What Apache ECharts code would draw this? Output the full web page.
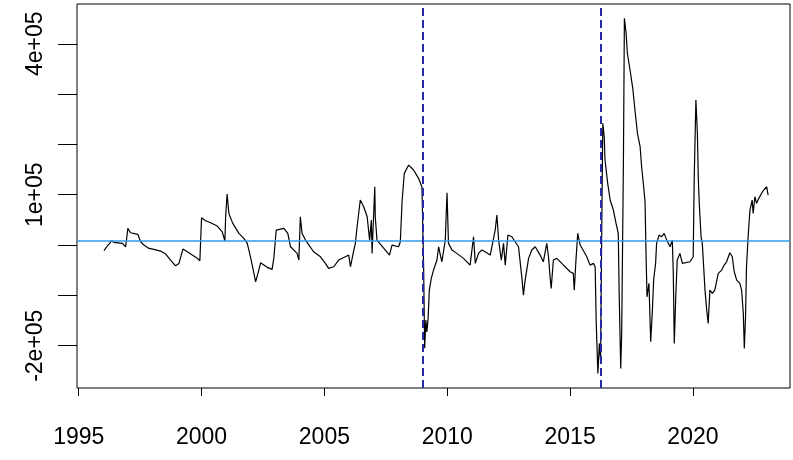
<!DOCTYPE html>
<html><head><meta charset="utf-8">
<script src="https://cdn.jsdelivr.net/npm/echarts@6/dist/echarts.min.js"></script>
<style>html,body{margin:0;padding:0;background:#fff}#c{width:793px;height:460px}</style>
</head><body><div id="c"></div>
<script>
// time (decimal year) of each vertex
const years = [1996.03,1996.17,1996.34,1996.43,1996.78,1996.91,1997.00,1997.07,1997.11,1997.41,1997.52,1997.65,1997.86,1998.06,1998.33,1998.54,1998.74,1998.94,1999.08,1999.24,1999.42,1999.62,1999.83,1999.93,
2000.00,2000.16,2000.37,2000.64,2000.84,2000.95,2000.98,2001.04,2001.11,2001.27,2001.52,2001.72,2001.86,2001.99,2002.09,2002.20,2002.33,2002.40,2002.67,2002.87,2002.94,2003.04,2003.21,2003.35,2003.51,2003.62,2003.89,2003.96,2004.02,2004.09,2004.23,2004.56,2004.84,
2005.04,2005.17,2005.38,2005.58,2005.85,2005.99,2006.06,2006.18,2006.26,2006.33,2006.46,2006.60,2006.74,2006.84,2006.91,2006.94,2007.05,2007.07,2007.14,2007.48,2007.65,2007.75,2008.02,2008.09,2008.16,2008.25,2008.43,2008.63,2008.83,2008.97,
2009.04,2009.08,2009.13,2009.17,2009.22,2009.27,2009.35,2009.44,2009.58,2009.65,2009.72,2009.78,2009.92,2009.99,2010.05,2010.19,2010.39,2010.66,2010.93,2011.07,2011.14,2011.27,2011.41,2011.54,2011.75,2011.95,2012.02,2012.09,2012.20,2012.29,2012.36,2012.47,2012.63,2012.76,2012.90,
2013.04,2013.10,2013.17,2013.31,2013.44,2013.58,2013.78,2013.91,2014.05,2014.12,2014.19,2014.23,2014.32,2014.46,2014.66,2015.00,2015.13,2015.17,2015.23,2015.31,2015.41,2015.68,2015.81,2015.95,
2016.02,2016.06,2016.13,2016.19,2016.24,2016.29,2016.33,2016.39,2016.42,2016.53,2016.63,2016.76,2016.87,2016.96,2017.00,2017.06,2017.10,2017.17,2017.21,2017.28,2017.33,2017.44,2017.55,2017.64,2017.74,2017.85,2017.91,2017.98,
2018.05,2018.09,2018.13,2018.21,2018.28,2018.35,2018.40,2018.48,2018.52,2018.62,2018.73,2018.83,2018.93,2019.07,2019.16,2019.20,2019.24,2019.30,2019.36,2019.47,2019.57,2019.88,
2020.01,2020.05,2020.12,2020.18,2020.22,2020.26,2020.33,2020.38,2020.42,2020.49,2020.56,2020.62,2020.69,2020.79,2020.89,2021.03,2021.17,2021.27,2021.37,2021.50,2021.60,2021.68,2021.78,2021.91,2021.98,
2022.05,2022.09,2022.14,2022.18,2022.25,2022.32,2022.41,2022.45,2022.52,2022.59,2022.68,2022.76,2022.83,2023.00,2023.06];
const values = [-11000,-1400,8500,5400,3400,-3400,33200,33200,24500,21300,6600,0,-6600,-8500,-11900,-17900,-29800,-41200,-36400,-8000,-13300,-19900,-26400,-31200,
54300,48300,44300,37800,26400,8000,56300,101400,63000,43100,23300,13300,3400,-23300,-46300,-73000,-49700,-35200,-44300,-48300,-26400,29800,31800,33200,23300,-3400,-16500,-29800,56300,23300,9900,-13300,-23300,
-36400,-46300,-43100,-29800,-23300,-19900,-43100,-13900,3400,36400,89500,76100,56300,9900,49700,-16500,115900,56300,9900,-9900,-19900,0,-3400,6600,86100,142500,159000,149100,132600,115300,
-49700,-204800,-149100,-172400,-145700,-89500,-66200,-49700,-29800,-3400,-19900,-33200,9900,104000,3400,-9900,-16500,-26400,-39800,16500,-36400,-16500,-9900,-13300,-19900,29800,59600,9900,-29800,3400,-39800,19900,16500,6600,-3400,
-66200,-99400,-69600,-26400,-9900,-3400,-19900,-33200,3400,-23300,-66200,-86100,-29800,-26400,-36400,-53100,-56300,-89500,-36400,23300,0,-23300,-39800,-36400,
-43100,-149100,-255100,-195400,-228600,43100,241900,215300,169000,122700,89500,69600,43100,23300,-102800,-245100,-175500,169000,450700,420900,381100,347900,311500,268400,222100,195400,155700,122700,
86100,-16500,-102800,-76100,-192200,-129200,-69600,-36400,3400,19900,16500,23300,9900,-3400,9900,-56300,-195400,-102800,-29800,-16500,-36400,-33200,
-23300,129200,288300,222100,129200,79500,16500,3400,-29800,-89500,-129200,-155700,-89500,-96000,-89500,-56300,-49700,-39800,-33200,-15300,-23300,-53100,-69600,-76100,-89500,
-135800,-205400,-142500,-43100,19900,69600,89500,63000,96000,82900,92800,89500,106000,115900,99400];
const breakYears = [2009.0, 2016.25];
const meanLevel = 8500;
const xTicks = [1995, 2000, 2005, 2010, 2015, 2020];
const yTicks = [-200000, -100000, 0, 100000, 200000, 300000, 400000];
const yLabels = [-200000, 100000, 400000];
const yLabelText = {"-200000": "-2e+05", "100000": "1e+05", "400000": "4e+05"};

const series = years.map((y, i) => [y, values[i]]);
const chart = echarts.init(document.getElementById('c'), null, {renderer: 'canvas'});
chart.setOption({
  animation: false,
  backgroundColor: '#ffffff',
  grid: {left: 77, right: 3, top: 4, bottom: 72, show: true, borderColor: '#000', borderWidth: 1, backgroundColor: 'transparent'},
  xAxis: {
    type: 'value', min: 1994.93, max: 2023.95,
    axisLine: {show: false, onZero: false},
    splitLine: {show: false},
    axisTick: {show: true, inside: false, length: 8, lineStyle: {color: '#000', width: 1}, customValues: xTicks},
    axisLabel: {show: true, customValues: xTicks, margin: 38, color: '#000', fontSize: 23, fontFamily: 'Liberation Sans, Arial, sans-serif', formatter: v => String(v)}
  },
  yAxis: {
    type: 'value', min: -284000, max: 479000,
    axisLine: {show: false, onZero: false},
    splitLine: {show: false},
    axisTick: {show: true, inside: false, length: 19, lineStyle: {color: '#000', width: 1}, customValues: yTicks},
    axisLabel: {show: true, customValues: yLabels, rotate: 90, margin: 30, color: '#000', fontSize: 23, fontFamily: 'Liberation Sans, Arial, sans-serif', formatter: v => yLabelText[String(v)] || ''}
  },
  series: [{
    type: 'line', data: series, showSymbol: false, symbol: 'none',
    lineStyle: {color: '#000', width: 1.2}, silent: true,
    markLine: {
      silent: true, symbol: ['none', 'none'], label: {show: false},
      data: [
        {yAxis: meanLevel, lineStyle: {color: '#2e9be6', width: 1.5, type: 'solid'}},
        ...breakYears.map(b => ({xAxis: b, lineStyle: {color: '#2828a8', width: 2, type: [8, 4]}}))
      ]
    }
  }]
});
</script></body></html>
